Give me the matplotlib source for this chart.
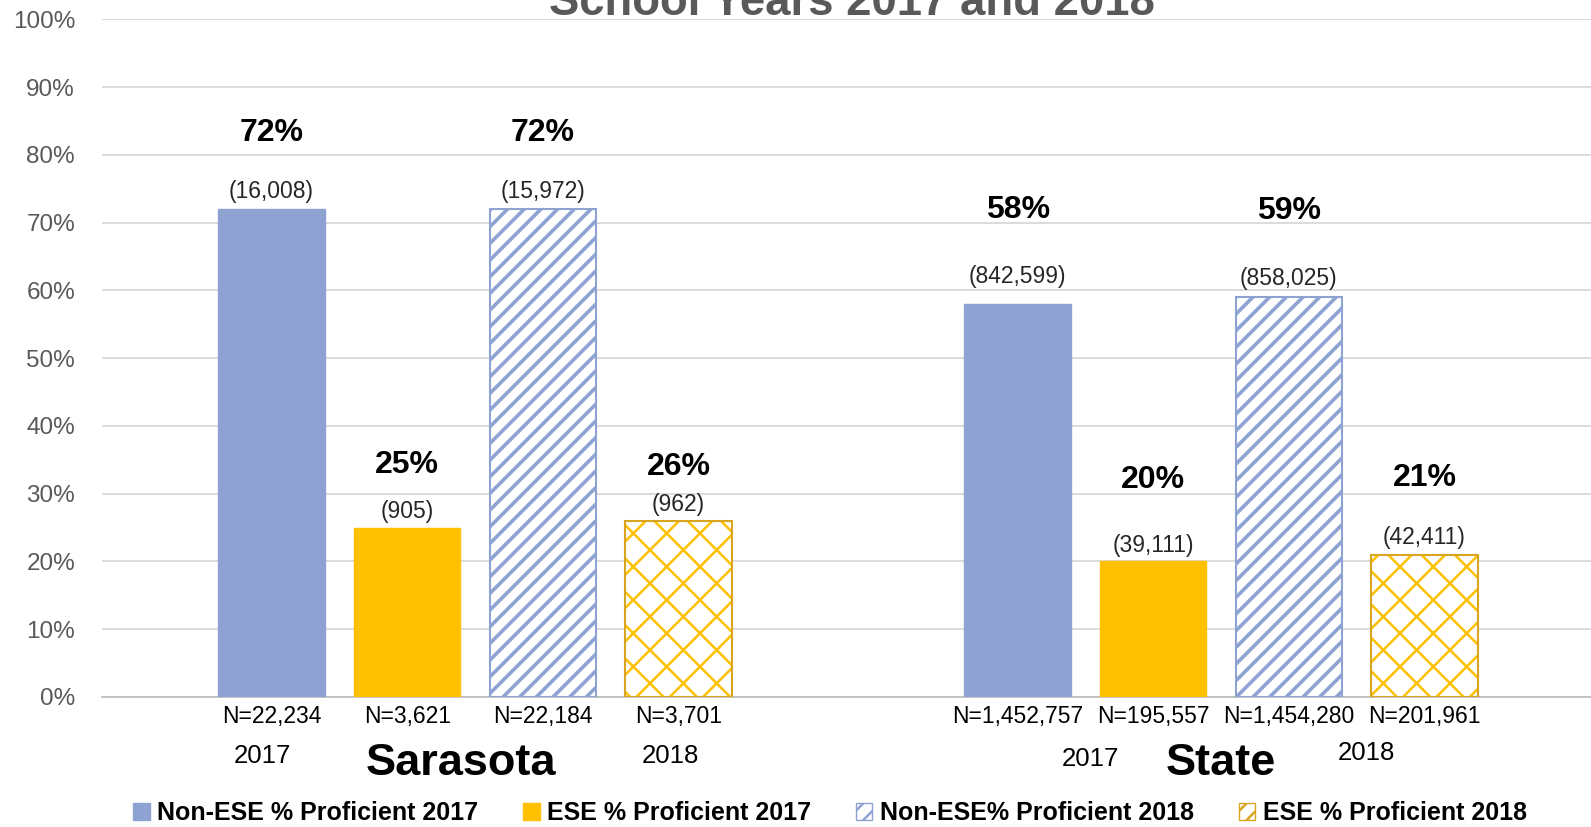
import numpy as np
import matplotlib
matplotlib.use("Agg")
from matplotlib import pyplot as plt
from matplotlib.patches import Patch

plt.rcParams['font.family'] = ['Liberation Sans', 'DejaVu Sans']

# データ
series_names = ["Non-ESE % Proficient 2017", "ESE % Proficient 2017",
                "Non-ESE% Proficient 2018", "ESE % Proficient 2018"]
groups = ["Sarasota", "State"]
pct = [[72, 58], [25, 20], [72, 59], [26, 21]]          # series x group
counts = [["(16,008)", "(842,599)"], ["(905)", "(39,111)"],
          ["(15,972)", "(858,025)"], ["(962)", "(42,411)"]]
n_labels = [["N=22,234", "N=1,452,757"], ["N=3,621", "N=195,557"],
            ["N=22,184", "N=1,454,280"], ["N=3,701", "N=201,961"]]
years = ["2017", "2018"]
title = "School Years 2017 and 2018"

# ラベル位置 (棒の上からのずれ, %)
pct_off = [[11.2, 13.9], [9.3, 12.0], [11.2, 12.7], [8.0, 11.3]]
cnt_off = [[2.6, 4.0], [2.4, 2.3], [2.6, 2.7], [2.4, 2.5]]

blue = "#8FA3D3"
gold = "#FFC000"
gold_edge = "#D9A521"
grey = "#595959"

fig = plt.figure(figsize=(15.91, 8.27), dpi=100)
ax = fig.add_axes([0.0638, 0.1572, 0.9362, 0.8195])

group_x = np.array([0.0, 5.5])
width = 0.785

for i in range(4):
    x = group_x + i
    vals = [pct[i][0], pct[i][1]]
    if i == 0:
        ax.bar(x, vals, width, color=blue, edgecolor=blue, linewidth=1, zorder=3)
    elif i == 1:
        ax.bar(x, vals, width, color=gold, edgecolor=gold, linewidth=1, zorder=3)
    elif i == 2:
        plt.rcParams['hatch.linewidth'] = 2.6
        ax.bar(x, vals, width, color="white", edgecolor=blue, hatch="//",
               linewidth=1.5, zorder=3)
    else:
        plt.rcParams['hatch.linewidth'] = 1.8
        ax.bar(x, vals, width, color="white", edgecolor=gold, hatch="x",
               linewidth=0, zorder=3)
        ax.bar(x, vals, width, color="none", edgecolor=gold_edge,
               linewidth=1.5, zorder=4)
    for g in range(2):
        ax.text(x[g], vals[g] + pct_off[i][g], "%d%%" % vals[g], ha="center",
                va="center", fontsize=23, fontweight="bold", color="black")
        ax.text(x[g], vals[g] + cnt_off[i][g], counts[i][g], ha="center",
                va="center", fontsize=16.5, color="#262626")
        ax.text(x[g], -2.84, n_labels[i][g], ha="center", va="center",
                fontsize=16.5, color="black", clip_on=False)

# グループ・年ラベル
ax.text(-0.07, -8.68, years[0], ha="center", va="center", fontsize=18.5, clip_on=False)
ax.text(2.94, -8.68, years[1], ha="center", va="center", fontsize=18.5, clip_on=False)
ax.text(6.04, -9.13, years[0], ha="center", va="center", fontsize=18.5, clip_on=False)
ax.text(8.07, -8.23, years[1], ha="center", va="center", fontsize=18.5, clip_on=False)
ax.text(1.40, -9.88, groups[0], ha="center", va="center", fontsize=32.5,
        fontweight="bold", clip_on=False)
ax.text(7.0, -9.88, groups[1], ha="center", va="center", fontsize=32.5,
        fontweight="bold", clip_on=False)

ax.set_xlim(-1.253, 9.727)
ax.set_ylim(0, 100)
ax.set_yticks(np.arange(0, 101, 10))
ax.set_yticklabels(["%d%%" % v for v in range(0, 101, 10)])
ax.tick_params(axis="y", length=0, pad=19, labelsize=17.5, labelcolor=grey)
ax.set_xticks([])
ax.grid(axis="y", color="#D9D9D9", linewidth=1.3, zorder=0)
for s in ["top", "right", "left"]:
    ax.spines[s].set_visible(False)
ax.spines["bottom"].set_color("#BFBFBF")
ax.spines["bottom"].set_linewidth(1.3)

# タイトル (上が切れている)
fig.text(0.5357, 1 - 15 / 827, title, ha="center", va="baseline",
         fontsize=32.8, fontweight="bold", color=grey)

handles = [
    Patch(facecolor=blue, edgecolor=blue),
    Patch(facecolor=gold, edgecolor=gold),
    Patch(facecolor="white", edgecolor=blue, hatch="//"),
    Patch(facecolor="white", edgecolor=gold_edge, hatch="//"),
]
fig.legend(handles, series_names, loc="center", bbox_to_anchor=(0.5217, 0.0165),
           ncol=4, frameon=False, prop={"size": 18, "weight": "bold"},
           handlelength=0.65, handleheight=0.65, handletextpad=0.3,
           columnspacing=1.8, borderaxespad=0)

fig.savefig("out.png", dpi=100)
